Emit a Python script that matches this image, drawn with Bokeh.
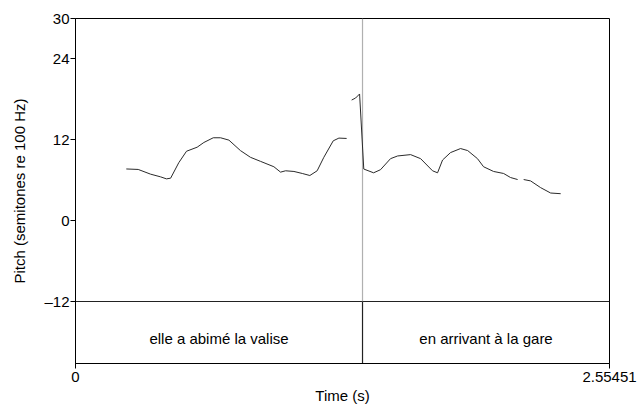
from bokeh.plotting import figure
from bokeh.models import Range1d, FixedTicker, Label
from bokeh.embed import file_html
from bokeh.resources import INLINE

# ---- data ----
t_end = 2.55451
y_ticks = [30, 24, 12, 0, -12]
y_tick_labels = ["30", "24", "12", "0", "\u201312"]
x_ticks = [0, 2.55451]
x_tick_labels = ["0", "2.55451"]

seg1_t = [0.243, 0.300, 0.359, 0.407, 0.435, 0.455, 0.494, 0.531, 0.582, 0.614, 0.659,
          0.694, 0.734, 0.789, 0.837, 0.885, 0.949, 0.981, 1.005, 1.045, 1.085, 1.121,
          1.156, 1.188, 1.233, 1.260, 1.297]
seg1_p = [7.67, 7.6, 6.9, 6.5, 6.2, 6.3, 8.6, 10.3, 10.9, 11.6, 12.3,
          12.3, 11.95, 10.4, 9.4, 8.8, 8.0, 7.2, 7.4, 7.3, 7.0, 6.7,
          7.4, 9.4, 11.85, 12.25, 12.2]
seg2_t = [1.321, 1.340, 1.359, 1.379, 1.426, 1.459, 1.507, 1.541, 1.603, 1.651, 1.708,
          1.732, 1.756, 1.794, 1.842, 1.876, 1.923, 1.952, 2.000, 2.048, 2.081, 2.115]
seg2_p = [17.9, 18.2, 18.8, 7.66, 7.1, 7.56, 9.2, 9.6, 9.8, 9.2, 7.4,
          7.1, 9.0, 10.1, 10.7, 10.4, 9.2, 8.0, 7.3, 7.0, 6.4, 6.1]
seg3_t = [2.144, 2.177, 2.225, 2.273, 2.321]
seg3_p = [6.1, 5.9, 4.9, 4.1, 4.0]

tier_bounds = [0, 1.373, 2.55451]
tier_labels = ["elle a abimé la valise", "en arrivant à la gare"]

FONT = "Liberation Sans"
FS = "15px"
y_lo, y_hi = -21.2, 30
frame_h = 345

p = figure(frame_width=534, frame_height=frame_h,
           min_border_left=75, min_border_right=29, min_border_top=18, min_border_bottom=51,
           x_range=Range1d(0, t_end), y_range=Range1d(y_lo, y_hi),
           output_backend="svg", toolbar_location=None)
p.xgrid.visible = False
p.ygrid.visible = False
p.outline_line_color = "black"
p.outline_line_width = 1
p.background_fill_color = "white"
p.border_fill_color = "white"

p.yaxis.ticker = FixedTicker(ticks=y_ticks)
p.yaxis.major_label_overrides = {v: s for v, s in zip(y_ticks, y_tick_labels)}
p.xaxis.ticker = FixedTicker(ticks=x_ticks)
p.xaxis.major_label_overrides = {v: s for v, s in zip(x_ticks, x_tick_labels)}
for ax in (p.xaxis[0], p.yaxis[0]):
    ax.minor_tick_line_color = None
    ax.major_tick_in = 0
    ax.major_tick_out = 5
    ax.major_tick_line_color = "black"
    ax.axis_line_color = "black"
    ax.major_label_text_font = FONT
    ax.major_label_text_font_size = FS
    ax.major_label_text_color = "black"
    ax.axis_label_text_font = FONT
    ax.axis_label_text_font_size = FS
    ax.axis_label_text_font_style = "normal"
    ax.axis_label_text_color = "black"
p.yaxis.major_label_standoff = 1
p.xaxis.major_label_standoff = 3
p.xaxis.axis_label = "Time (s)"
p.xaxis.axis_label_standoff = 2
p.yaxis.axis_label = "Pitch (semitones re 100 Hz)"
p.yaxis.axis_label_standoff = 13

# tier frame lines
p.line([0, t_end], [-12, -12], line_color="#222222", line_width=1.2)
p.line([tier_bounds[1], tier_bounds[1]], [-12, y_hi], line_color="#b0b0b0", line_width=1.2)
p.line([tier_bounds[1], tier_bounds[1]], [y_lo, -12], line_color="#222222", line_width=1.2)

# pitch contour
p.multi_line([seg1_t, seg2_t, seg3_t], [seg1_p, seg2_p, seg3_p],
             line_color="#2a2a2a", line_width=1)

# tier labels
for i, lab in enumerate(tier_labels):
    mid = (tier_bounds[i] + tier_bounds[i + 1]) / 2
    p.add_layout(Label(x=mid, y=(-12 + y_lo) / 2 - 0.95, text=lab, text_align="center",
                       text_baseline="middle", text_font=FONT, text_font_size=FS,
                       text_color="black"))

open("out.html", "w").write(file_html(p, INLINE))
